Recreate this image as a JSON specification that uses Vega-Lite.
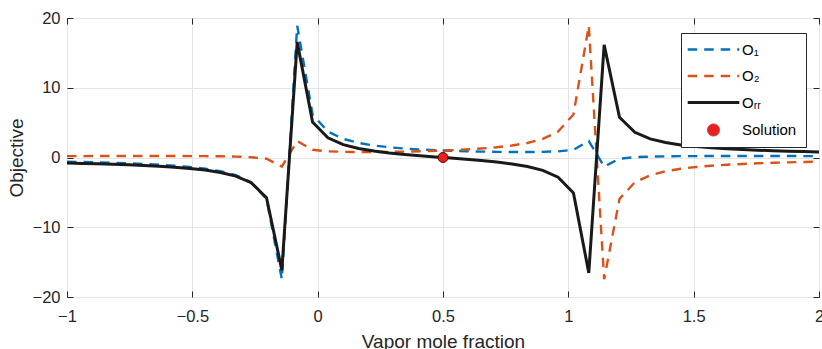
{
  "$schema": "https://vega.github.io/schema/vega-lite/v6.json",
  "width": 752,
  "height": 279,
  "autosize": {"type": "none"},
  "padding": {"left": 67, "top": 18, "right": 3, "bottom": 52},
  "background": "white",
  "config": {
    "font": "Liberation Sans",
    "view": {"stroke": "#262626", "strokeWidth": 1},
    "axis": {
      "grid": true,
      "gridColor": "#e4e4e4",
      "gridWidth": 1,
      "domain": false,
      "tickColor": "#262626",
      "tickSize": -6,
      "tickWidth": 1,
      "labelFont": "Liberation Sans",
      "labelFontSize": 16.5,
      "labelColor": "#262626",
      "titleFont": "Liberation Sans",
      "titleFontSize": 19,
      "titleFontWeight": "normal",
      "titleColor": "#262626",
      "labelFlush": false,
      "labelOverlap": false
    }
  },
  "datasets": {
    "curves": [
      {"x": -1, "O1": -0.5987, "O2": 0.2007, "ORR": -0.7993},
      {"x": -0.9388, "O1": -0.6441, "O2": 0.2039, "ORR": -0.848},
      {"x": -0.8776, "O1": -0.6969, "O2": 0.2069, "ORR": -0.9038},
      {"x": -0.8163, "O1": -0.759, "O2": 0.2095, "ORR": -0.9684},
      {"x": -0.7551, "O1": -0.8329, "O2": 0.2114, "ORR": -1.0443},
      {"x": -0.6939, "O1": -0.9225, "O2": 0.2125, "ORR": -1.135},
      {"x": -0.6327, "O1": -1.0334, "O2": 0.2121, "ORR": -1.2454},
      {"x": -0.5714, "O1": -1.1739, "O2": 0.2095, "ORR": -1.3834},
      {"x": -0.5102, "O1": -1.3578, "O2": 0.2035, "ORR": -1.5612},
      {"x": -0.449, "O1": -1.6087, "O2": 0.1917, "ORR": -1.8004},
      {"x": -0.3878, "O1": -1.9711, "O2": 0.1698, "ORR": -2.141},
      {"x": -0.3265, "O1": -2.5403, "O2": 0.1285, "ORR": -2.6688},
      {"x": -0.2653, "O1": -3.5626, "O2": 0.0433, "ORR": -3.6059},
      {"x": -0.2041, "O1": -5.9334, "O2": -0.1751, "ORR": -5.7582},
      {"x": -0.1429, "O1": -17.4557, "O2": -1.307, "ORR": -16.1487},
      {"x": -0.0816, "O1": 18.8927, "O2": 2.3504, "ORR": 16.5423},
      {"x": -0.0204, "O1": 6.1741, "O2": 1.1035, "ORR": 5.0706},
      {"x": 0.0408, "O1": 3.7086, "O2": 0.8847, "ORR": 2.8239},
      {"x": 0.102, "O1": 2.6614, "O2": 0.8112, "ORR": 1.8502},
      {"x": 0.1633, "O1": 2.0834, "O2": 0.7886, "ORR": 1.2948},
      {"x": 0.2245, "O1": 1.7181, "O2": 0.7921, "ORR": 0.9259},
      {"x": 0.2857, "O1": 1.4673, "O2": 0.8131, "ORR": 0.6542},
      {"x": 0.3469, "O1": 1.2856, "O2": 0.8483, "ORR": 0.4373},
      {"x": 0.4082, "O1": 1.1489, "O2": 0.8973, "ORR": 0.2516},
      {"x": 0.4694, "O1": 1.0436, "O2": 0.9614, "ORR": 0.0822},
      {"x": 0.5306, "O1": 0.9614, "O2": 1.0436, "ORR": -0.0822},
      {"x": 0.5918, "O1": 0.8973, "O2": 1.1489, "ORR": -0.2516},
      {"x": 0.6531, "O1": 0.8483, "O2": 1.2856, "ORR": -0.4373},
      {"x": 0.7143, "O1": 0.8131, "O2": 1.4673, "ORR": -0.6542},
      {"x": 0.7755, "O1": 0.7921, "O2": 1.7181, "ORR": -0.9259},
      {"x": 0.8367, "O1": 0.7886, "O2": 2.0834, "ORR": -1.2948},
      {"x": 0.898, "O1": 0.8112, "O2": 2.6614, "ORR": -1.8502},
      {"x": 0.9592, "O1": 0.8847, "O2": 3.7086, "ORR": -2.8239},
      {"x": 1.0204, "O1": 1.1035, "O2": 6.1741, "ORR": -5.0706},
      {"x": 1.0816, "O1": 2.3504, "O2": 18.8927, "ORR": -16.5423},
      {"x": 1.1429, "O1": -1.307, "O2": -17.4557, "ORR": 16.1487},
      {"x": 1.2041, "O1": -0.1751, "O2": -5.9334, "ORR": 5.7582},
      {"x": 1.2653, "O1": 0.0433, "O2": -3.5626, "ORR": 3.6059},
      {"x": 1.3265, "O1": 0.1285, "O2": -2.5403, "ORR": 2.6688},
      {"x": 1.3878, "O1": 0.1698, "O2": -1.9711, "ORR": 2.141},
      {"x": 1.449, "O1": 0.1917, "O2": -1.6087, "ORR": 1.8004},
      {"x": 1.5102, "O1": 0.2035, "O2": -1.3578, "ORR": 1.5612},
      {"x": 1.5714, "O1": 0.2095, "O2": -1.1739, "ORR": 1.3834},
      {"x": 1.6327, "O1": 0.2121, "O2": -1.0334, "ORR": 1.2454},
      {"x": 1.6939, "O1": 0.2125, "O2": -0.9225, "ORR": 1.135},
      {"x": 1.7551, "O1": 0.2114, "O2": -0.8329, "ORR": 1.0443},
      {"x": 1.8163, "O1": 0.2095, "O2": -0.759, "ORR": 0.9684},
      {"x": 1.8776, "O1": 0.2069, "O2": -0.6969, "ORR": 0.9038},
      {"x": 1.9388, "O1": 0.2039, "O2": -0.6441, "ORR": 0.848},
      {"x": 2, "O1": 0.2007, "O2": -0.5987, "ORR": 0.7993}
    ],
    "solution": [{"x": 0.5, "y": 0, "series": "Solution"}]
  },
  "layer": [
    {
      "data": {"name": "curves"},
      "transform": [{"fold": ["O1", "O2"], "as": ["series", "y"]}],
      "mark": {"type": "line", "strokeWidth": 2.4, "strokeDash": [9.5, 7], "clip": true},
      "encoding": {
        "x": {
          "field": "x", "type": "quantitative",
          "scale": {"domain": [-1, 2], "nice": false, "zero": false},
          "axis": {"values": [-1, -0.5, 0, 0.5, 1, 1.5, 2], "format": "~g", "title": "Vapor mole fraction", "labelPadding": 17, "titlePadding": 8}
        },
        "y": {
          "field": "y", "type": "quantitative",
          "scale": {"domain": [-20, 20], "nice": false, "zero": false},
          "axis": {"values": [-20, -10, 0, 10, 20], "format": "d", "title": "Objective", "labelPadding": 13, "titlePadding": 6}
        },
        "color": {
          "field": "series", "type": "nominal",
          "scale": {"domain": ["O1", "O2", "ORR", "Solution"], "range": ["#0072BD", "#D95319", "#1a1a1a", "#E8201F"]},
          "legend": {
            "title": null,
            "orient": "none",
            "legendX": 614,
            "legendY": 15,
            "strokeColor": "#262626",
            "fillColor": "white",
            "padding": 9,
            "labelFont": "Liberation Sans",
            "labelFontSize": 15,
            "labelColor": "#000000",
            "symbolSize": 144,
            "symbolOffset": 16,
            "labelOffset": 21,
            "rowPadding": 10.5,
            "labelExpr": "datum.value === 'O1' ? 'O₁' : datum.value === 'O2' ? 'O₂' : datum.value === 'ORR' ? 'Oᵣᵣ' : 'Solution'",
            "encode": {
              "symbols": {
                "update": {
                  "shape": {"signal": "datum.value === 'Solution' ? 'circle' : 'M-4.3,0H4.3'"},
                  "fill": {"signal": "datum.value === 'Solution' ? '#E8201F' : 'transparent'"},
                  "stroke": {"signal": "datum.value === 'O1' ? '#0072BD' : datum.value === 'O2' ? '#D95319' : datum.value === 'ORR' ? '#1a1a1a' : '#5a0000'"},
                  "strokeDash": {"signal": "datum.value === 'O1' || datum.value === 'O2' ? [9.5, 7] : [1, 0]"},
                  "strokeWidth": {"signal": "datum.value === 'ORR' ? 3 : datum.value === 'Solution' ? 1 : 2.4"},
                  "opacity": {"value": 1}
                }
              }
            }
          }
        }
      }
    },
    {
      "data": {"name": "curves"},
      "transform": [{"fold": ["ORR"], "as": ["series", "y"]}],
      "mark": {"type": "line", "strokeWidth": 3, "clip": true},
      "encoding": {
        "x": {"field": "x", "type": "quantitative", "axis": null},
        "y": {"field": "y", "type": "quantitative", "axis": null},
        "color": {"field": "series", "type": "nominal"}
      }
    },
    {
      "data": {"name": "solution"},
      "mark": {"type": "point", "filled": true, "size": 100, "stroke": "#5a0000", "strokeWidth": 1, "opacity": 1},
      "encoding": {
        "x": {"field": "x", "type": "quantitative", "axis": {"orient": "top", "values": [-1, -0.5, 0, 0.5, 1, 1.5, 2], "labels": false, "title": null, "grid": false}},
        "y": {"field": "y", "type": "quantitative", "axis": {"orient": "right", "values": [-20, -10, 0, 10, 20], "labels": false, "title": null, "grid": false}},
        "color": {"field": "series", "type": "nominal"}
      }
    }
  ],
  "resolve": {"axis": {"x": "independent", "y": "independent"}}
}
